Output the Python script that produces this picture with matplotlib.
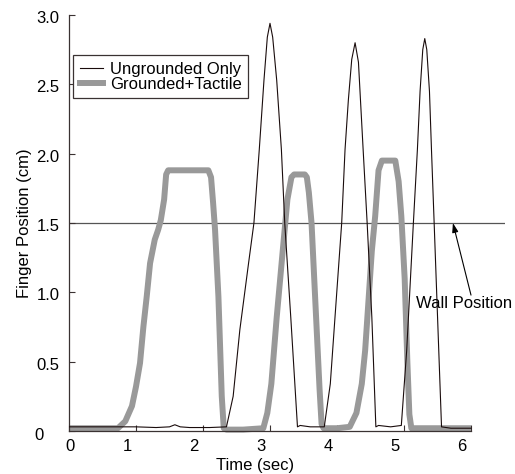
import numpy as np
import matplotlib.pyplot as plt
from matplotlib.lines import Line2D
from matplotlib.transforms import ScaledTranslation

plt.rcParams['font.family'] = ['Liberation Sans', 'DejaVu Sans']

# finger trajectory without the grounded device (thin black)
ungrounded_t = [0.0, 0.5, 1.0, 1.3, 1.5, 1.58, 1.66, 1.8, 2.1, 2.35,
                2.45, 2.55, 2.68, 2.76, 2.84, 2.91, 2.96, 3.0, 3.04, 3.10,
                3.17, 3.22, 3.31, 3.41, 3.45, 3.6, 3.81, 3.90, 3.97, 4.07,
                4.12, 4.17, 4.22, 4.27, 4.32, 4.35, 4.39, 4.45, 4.52, 4.58,
                4.62, 4.8, 4.96, 5.04, 5.14, 5.20, 5.24, 5.28, 5.31, 5.34,
                5.38, 5.41, 5.45, 5.56, 5.7, 6.0]
ungrounded_pos = [0.03, 0.03, 0.03, 0.025, 0.03, 0.045, 0.03, 0.025, 0.025, 0.03,
                  0.25, 0.73, 1.21, 1.5, 2.03, 2.53, 2.84, 2.94, 2.84, 2.53,
                  2.03, 1.5, 0.82, 0.03, 0.04, 0.03, 0.03, 0.34, 0.82, 1.5,
                  2.03, 2.39, 2.68, 2.80, 2.66, 2.39, 2.03, 1.5, 0.82, 0.03,
                  0.04, 0.03, 0.04, 0.58, 1.5, 2.03, 2.45, 2.75, 2.83, 2.75,
                  2.45, 2.03, 1.5, 0.03, 0.02, 0.02]

# with grounded + tactile feedback (thick grey)
grounded_t = [0.0, 0.73, 0.84, 0.94, 1.0, 1.06, 1.11, 1.16, 1.21, 1.28,
              1.33, 1.37, 1.42, 1.45, 1.48, 1.8, 2.08, 2.12, 2.15, 2.18,
              2.23, 2.28, 2.31, 2.35, 2.6, 2.90, 2.96, 3.02, 3.10, 3.19,
              3.26, 3.32, 3.36, 3.52, 3.55, 3.58, 3.62, 3.66, 3.70, 3.74,
              3.77, 3.80, 4.0, 4.19, 4.29, 4.37, 4.42, 4.47, 4.52, 4.57,
              4.62, 4.67, 4.87, 4.92, 4.96, 5.01, 5.05, 5.08, 5.11, 5.5,
              6.0]
grounded_pos = [0.02, 0.02, 0.07, 0.18, 0.32, 0.49, 0.75, 0.97, 1.21, 1.38,
                1.45, 1.52, 1.67, 1.85, 1.88, 1.88, 1.88, 1.83, 1.65, 1.45,
                0.97, 0.25, 0.02, 0.01, 0.01, 0.02, 0.13, 0.34, 0.82, 1.30,
                1.67, 1.83, 1.85, 1.85, 1.83, 1.72, 1.5, 1.1, 0.7, 0.3,
                0.05, 0.02, 0.02, 0.03, 0.13, 0.34, 0.58, 0.94, 1.30, 1.55,
                1.88, 1.95, 1.95, 1.8, 1.55, 1.1, 0.5, 0.12, 0.02, 0.02,
                0.02]

wall_pos = 1.5
x_ticks = [0, 1, 2, 3, 4, 5, 6]
y_ticks = [0, 0.5, 1.0, 1.5, 2.0, 2.5, 3.0]
y_ticklabels = ['0', '0.5', '1.0', '1.5', '2.0', '2.5', '3.0']

dark = '#3a3232'
grey = '#999999'
fs = 12

fig = plt.figure(figsize=(5.15, 4.74), dpi=100)
ax = fig.add_axes([69 / 515, 1 - 431 / 474, 435.5 / 515, 416 / 474])

ax.plot(grounded_t, grounded_pos, color=grey, lw=4.3, solid_joinstyle='round',
        solid_capstyle='butt', clip_on=False, zorder=2)
ax.plot(ungrounded_t, ungrounded_pos, color='#1a0c0c', lw=0.8, zorder=3)
ax.axhline(wall_pos, color='#555555', lw=0.9, zorder=1)

ax.set_xlim(0, 6.5)
ax.set_ylim(0, 3.0)
ax.spines['top'].set_visible(False)
ax.spines['right'].set_visible(False)
ax.spines['bottom'].set_bounds(0, 6)
for s in ('left', 'bottom'):
    ax.spines[s].set_color(dark)
    ax.spines[s].set_linewidth(0.9)

ax.set_xticks(x_ticks)
ax.set_yticks(y_ticks)
ax.set_yticklabels(y_ticklabels)
ax.tick_params(direction='in', length=4, width=0.8, color=dark,
               labelsize=fs, labelcolor='black')
ax.tick_params(axis='x', pad=6)
ax.tick_params(axis='y', pad=7)

# tick labels sit a little off their ticks
for i, lab in enumerate(ax.get_xticklabels()):
    dx = 1 if i == 0 else -9
    lab.set_transform(lab.get_transform() + ScaledTranslation(dx / 100, 0, fig.dpi_scale_trans))
for i, lab in enumerate(ax.get_yticklabels()):
    dx, dy = (-16, -3) if i == 0 else (0, -2)
    lab.set_transform(lab.get_transform() + ScaledTranslation(dx / 100, dy / 100, fig.dpi_scale_trans))

ax.set_xlabel('Time (sec)', fontsize=fs)
ax.xaxis.set_label_coords(0.427, -0.064)
ax.set_ylabel('Finger Position (cm)', fontsize=fs)
ax.yaxis.set_label_coords(-0.085, 0.5)

ax.annotate('', xy=(5.73, wall_pos), xytext=(6.0, 0.98),
            arrowprops=dict(arrowstyle='-|>,head_length=0.55,head_width=0.18',
                            color='black', lw=0.8, shrinkA=0, shrinkB=0))
ax.text(5.18, 0.92, 'Wall Position', fontsize=fs, va='center', ha='left')

handles = [Line2D([], [], color='#1a0c0c', lw=0.8),
           Line2D([], [], color=grey, lw=4.3)]
leg = fig.legend(handles, ['Ungrounded Only', 'Grounded+Tactile'],
                 loc='upper left', bbox_to_anchor=(73 / 515, 1 - 55 / 474),
                 fontsize=fs, frameon=True, fancybox=False, framealpha=1,
                 edgecolor=dark, borderaxespad=0, borderpad=0.4,
                 labelspacing=0.0, handlelength=1.4, handletextpad=0.4)
leg.get_frame().set_linewidth(0.9)

fig.savefig('out.png', dpi=100)
